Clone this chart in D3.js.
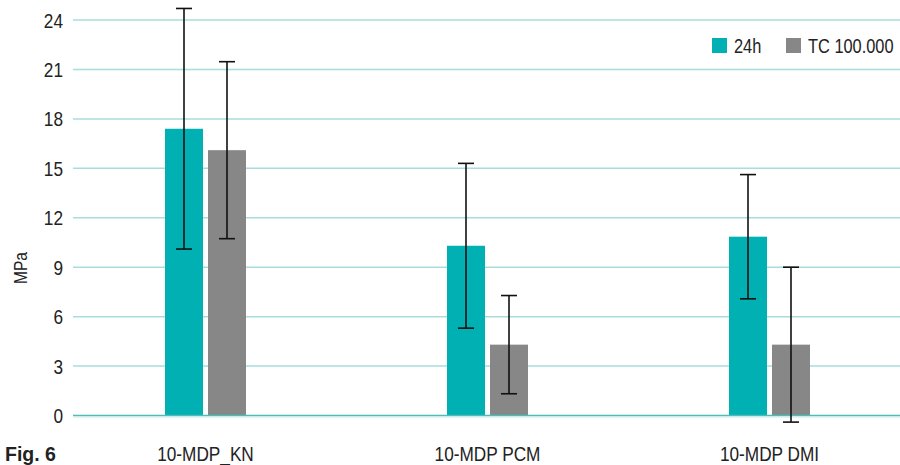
<!DOCTYPE html>
<html>
<head>
<meta charset="utf-8">
<script src="https://cdn.jsdelivr.net/npm/d3@7"></script>
<style>
  html, body { margin: 0; padding: 0; background: #fff; }
  svg text { font-family: "Liberation Sans", Arial, sans-serif; fill: #222; }
</style>
</head>
<body>
<svg id="chart" width="900" height="465"></svg>
<script>
const categories = ["10-MDP_KN", "10-MDP PCM", "10-MDP DMI"];
const seriesNames = ["24h", "TC 100.000"];
const values24h = [17.4, 10.3, 10.85];
const valuesTC = [16.1, 4.3, 4.3];
const err24h = [7.3, 5.0, 3.77];
const errTC = [5.37, 2.98, 4.7];
const yTicks = [0, 3, 6, 9, 12, 15, 18, 21, 24];
const colors = ["#00b0b3", "#878787"];

const NARROW = 0.82;
const svg = d3.select("#chart");
const x = d3.scaleBand().domain(categories).range([64.5, 910.5]);
const y = d3.scaleLinear().domain([0, 24]).range([415.5, 20]);
const gridX0 = 73, gridX1 = 900;

function narrowText(sel, tx, ty) {
  // emulate a condensed face by scaling Liberation Sans horizontally
  return sel.attr("transform", (d, i) => `translate(${tx(d, i)},${ty(d, i)}) scale(${NARROW},1)`);
}

// gridlines
svg.append("g").selectAll("line").data(yTicks.filter(d => d !== 0)).join("line")
  .attr("x1", gridX0).attr("x2", gridX1)
  .attr("y1", d => y(d)).attr("y2", d => y(d))
  .attr("stroke", "#a9dcdc").attr("stroke-width", 1.5);

// y tick labels
narrowText(svg.append("g").selectAll("text").data(yTicks).join("text"), () => 63, d => y(d))
  .attr("dy", "0.36em").attr("text-anchor", "end")
  .style("font-size", "21px").text(d => d);

const series = [
  { name: seriesNames[0], vals: values24h, errs: err24h, color: colors[0] },
  { name: seriesNames[1], vals: valuesTC, errs: errTC, color: colors[1] }
];
const bw = 38;
const offsets = [-40.5, 2.5];

series.forEach((s, si) => {
  svg.append("g").selectAll("rect").data(categories).join("rect")
    .attr("x", (c) => x(c) + x.bandwidth() / 2 + offsets[si])
    .attr("width", bw)
    .attr("y", (c, i) => y(s.vals[i]))
    .attr("height", (c, i) => y(0) - y(s.vals[i]))
    .attr("fill", s.color);
});

// zero line
svg.append("line").attr("x1", gridX0).attr("x2", gridX1)
  .attr("y1", y(0)).attr("y2", y(0)).attr("stroke", "#4fbcbc").attr("stroke-width", 1.5);
svg.append("line").attr("x1", gridX0).attr("x2", gridX1)
  .attr("y1", y(0) + 1.5).attr("y2", y(0) + 1.5).attr("stroke", "#c4ebeb").attr("stroke-width", 1);

// error bars
series.forEach((s, si) => {
  const g = svg.append("g").attr("stroke", "#111").attr("stroke-width", 1.6);
  categories.forEach((c, i) => {
    const cx = x(c) + x.bandwidth() / 2 + offsets[si] + bw / 2;
    const hi = y(s.vals[i] + s.errs[i]), lo = y(s.vals[i] - s.errs[i]);
    g.append("line").attr("x1", cx).attr("x2", cx).attr("y1", hi).attr("y2", lo);
    g.append("line").attr("x1", cx - 8).attr("x2", cx + 8).attr("y1", hi).attr("y2", hi);
    g.append("line").attr("x1", cx - 8).attr("x2", cx + 8).attr("y1", lo).attr("y2", lo);
  });
});

// x labels
narrowText(svg.append("g").selectAll("text").data(categories).join("text"),
  c => x(c) + x.bandwidth() / 2, () => 461)
  .attr("text-anchor", "middle").style("font-size", "21px").text(c => c);

// y axis title
svg.append("text").attr("transform", `translate(27,268) rotate(-90) scale(${NARROW},1)`)
  .attr("text-anchor", "middle").style("font-size", "19px").text("MPa");

// Fig label
svg.append("text").attr("transform", `translate(5,461) scale(0.93,1)`)
  .style("font-size", "21px").style("font-weight", "bold").text("Fig. 6");

// legend
const leg = svg.append("g");
const legX = [712, 786];
series.forEach((s, si) => {
  leg.append("rect").attr("x", legX[si]).attr("y", 38).attr("width", 15).attr("height", 15).attr("fill", s.color);
  leg.append("text").attr("transform", `translate(${legX[si] + 22},53) scale(${NARROW},1)`)
    .style("font-size", "20px").text(s.name);
});
</script>
</body>
</html>
